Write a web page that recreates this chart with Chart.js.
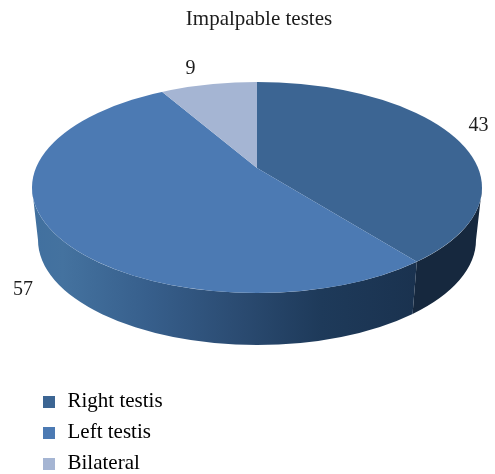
<!DOCTYPE html>
<html>
<head>
<meta charset="utf-8">
<style>html,body{margin:0;padding:0;background:#fff}canvas{display:block}</style>
<script src="https://cdn.jsdelivr.net/npm/chart.js@4"></script>
</head>
<body>
<canvas id="c" width="495" height="474"></canvas>
<script>
const chartTitle = 'Impalpable testes';
const categories = ['Right testis', 'Left testis', 'Bilateral'];
const values = [43, 57, 9];
const colors = ['#3c6593', '#4c7ab3', '#a5b5d3'];

// Projection of the tilted pie (styling geometry)
const FONT = '"Liberation Serif", serif';
const INK = '#1c1c1c';
const top_ = {cx: 257, cy: 187.5, rx: 225, ry: 105.5};
const bottom_ = {cx: 257, cy: 240, rx: 219, ry: 105};
const apex = {x: 257, y: 168};
const tilt = 0.458;
const labelNudges = [[24, -11], [-29, 59], [-18, -16]];

function rayHit(angle) {
  const dx = Math.cos(angle), dy = Math.sin(angle) * tilt;
  const ox = (apex.x - top_.cx) / top_.rx, oy = (apex.y - top_.cy) / top_.ry;
  const ax = dx / top_.rx, ay = dy / top_.ry;
  const a = ax * ax + ay * ay, b = 2 * (ox * ax + oy * ay), c = ox * ox + oy * oy - 1;
  const t = (-b + Math.sqrt(b * b - 4 * a * c)) / (2 * a);
  return {x: apex.x + dx * t, y: apex.y + dy * t};
}
function wall(ctx, t0, t1, fill) {
  ctx.beginPath();
  ctx.ellipse(top_.cx, top_.cy, top_.rx, top_.ry, 0, t0, t1);
  ctx.ellipse(bottom_.cx, bottom_.cy, bottom_.rx, bottom_.ry, 0, t1, t0, true);
  ctx.closePath();
  ctx.fillStyle = fill;
  ctx.fill();
}
const tiltedPie = {
  id: 'tiltedPie',
  beforeDatasetsDraw(chart) {
    const ctx = chart.ctx, arcs = chart.getDatasetMeta(0).data;
    const seam = rayHit(arcs[0].endAngle);
    const tSeam = Math.atan2((seam.y - top_.cy) / top_.ry, (seam.x - top_.cx) / top_.rx);
    const g = ctx.createLinearGradient(top_.cx - top_.rx, 0, seam.x, 0);
    g.addColorStop(0, '#41709f');
    g.addColorStop(0.08, '#44729f');
    g.addColorStop(0.3, '#375f8c');
    g.addColorStop(0.55, '#2a4a70');
    g.addColorStop(0.75, '#1e3a5a');
    g.addColorStop(1, '#1a324f');
    wall(ctx, 0, tSeam, '#16283e');
    wall(ctx, tSeam, Math.PI, g);
    ctx.save();
    ctx.beginPath();
    ctx.ellipse(top_.cx, top_.cy, top_.rx, top_.ry, 0, 0, Math.PI * 2);
    ctx.clip();
    const a = arcs[0], k = 300 / a.outerRadius;
    ctx.translate(apex.x, apex.y);
    ctx.scale(k, k * tilt);
    ctx.translate(-a.x, -a.y);
  },
  afterDatasetsDraw(chart) {
    const ctx = chart.ctx;
    ctx.restore();
    ctx.save();
    ctx.font = '20px ' + FONT;
    ctx.fillStyle = INK;
    ctx.textAlign = 'center';
    ctx.textBaseline = 'middle';
    chart.getDatasetMeta(0).data.forEach((arc, i) => {
      const p = rayHit((arc.startAngle + arc.endAngle) / 2);
      ctx.fillText(String(values[i]), p.x + labelNudges[i][0], p.y + labelNudges[i][1]);
    });
    ctx.restore();
  }
};
function swatch(color) {
  const s = document.createElement('canvas');
  s.width = 12; s.height = 12;
  const x = s.getContext('2d');
  x.fillStyle = color;
  x.fillRect(0, 0, 12, 12);
  return s;
}
new Chart(document.getElementById('c'), {
  type: 'pie',
  data: {
    labels: categories,
    datasets: [{data: values, backgroundColor: colors, borderWidth: 0, clip: false}]
  },
  plugins: [tiltedPie],
  options: {
    responsive: false,
    animation: false,
    layout: {padding: {left: 31, right: 8, top: 0, bottom: -10}},
    plugins: {
      tooltip: {enabled: false},
      title: {
        display: true, text: chartTitle, color: INK,
        font: {family: FONT, size: 21, weight: 'normal'},
        padding: {top: 7, bottom: 10}
      },
      legend: {
        position: 'left', align: 'end', maxWidth: 170,
        labels: {
          color: INK, font: {family: FONT, size: 21}, padding: 10,
          usePointStyle: true, pointStyleWidth: 16, boxHeight: 12,
          generateLabels: () => categories.map((c, i) => ({
            text: c, fillStyle: colors[i], strokeStyle: colors[i], lineWidth: 0,
            pointStyle: swatch(colors[i]), index: i
          }))
        }
      }
    }
  }
});
</script>
</body>
</html>
